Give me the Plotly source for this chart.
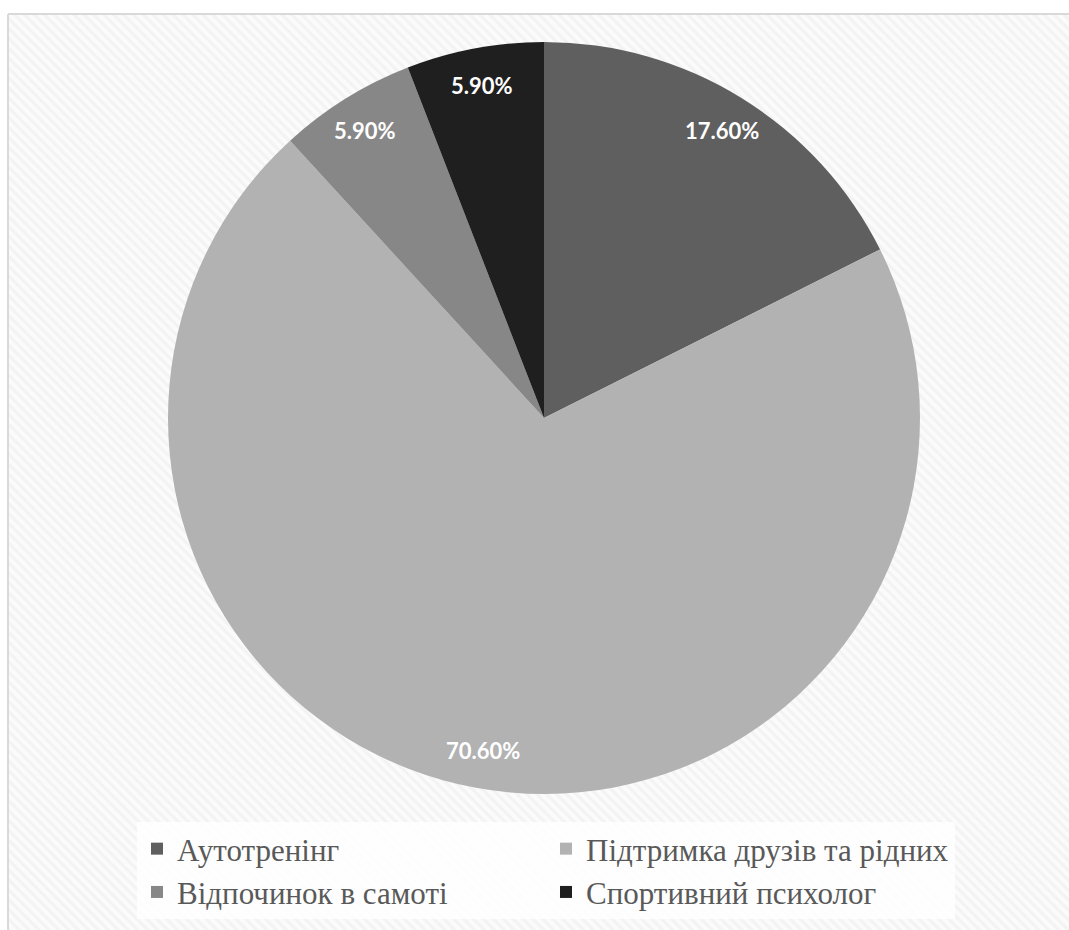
import math
import plotly.graph_objects as go

categories = ["Аутотренінг", "Підтримка друзів та рідних", "Відпочинок в самоті", "Спортивний психолог"]
values = [17.6, 70.6, 5.9, 5.9]
colors = ["#5f5f5f", "#b2b2b2", "#878787", "#1f1f1f"]
label_texts = ["17.60%", "70.60%", "5.90%", "5.90%"]

W, H = 1069, 930
cx, cy, R = 544, 418, 376

def px(x):
    return x / W

def py(y):
    return 1 - y / H

fig = go.Figure()

# hatched background panel
fig.add_trace(go.Scatter(
    x=[9, W + 20, W + 20, 9, 9], y=[15, 15, H + 20, H + 20, 15], mode="lines", fill="toself",
    line=dict(width=0), fillcolor="#fbfbfb",
    fillpattern=dict(shape="\\", bgcolor="#fbfbfb", fgcolor="#ececec", size=7, solidity=0.45),
    hoverinfo="skip", showlegend=False, xaxis="x", yaxis="y",
))

fig.add_trace(go.Pie(
    labels=categories, values=values, sort=False, direction="clockwise", rotation=0,
    marker=dict(colors=colors, line=dict(width=0)),
    textinfo="none", hoverinfo="label+percent",
    domain=dict(x=[px(cx - R), px(cx + R)], y=[py(cy + R), py(cy - R)]),
))

# labels computed from the data
annotations = []
total = sum(values)
cum = 0
for v, t in zip(values, label_texts):
    mid = (cum + v / 2) / total * 2 * math.pi
    cum += v
    lx = cx + 0.9 * R * math.sin(mid)
    ly = cy - 0.9 * R * math.cos(mid)
    annotations.append(dict(
        x=px(lx), y=py(ly), xref="paper", yref="paper", text=f"<b>{t}</b>",
        showarrow=False, font=dict(family="Lato, Open Sans, sans-serif", size=22, color="white"),
        xanchor="center", yanchor="middle",
    ))

shapes = [
    # frame border (left and top edges only visible)
    dict(type="line", xref="paper", yref="paper", x0=px(8), x1=px(8), y0=py(H + 10), y1=py(14),
         line=dict(color="#d9d9d9", width=2), layer="below"),
    dict(type="line", xref="paper", yref="paper", x0=px(8), x1=px(W + 10), y0=py(14), y1=py(14),
         line=dict(color="#d9d9d9", width=2), layer="below"),
]
# soft shadow around pie
for i, op in [(14, 0.03), (10, 0.04), (7, 0.05), (4, 0.07), (2, 0.09)]:
    shapes.append(dict(type="circle", xref="paper", yref="paper",
                       x0=px(cx - R - i), x1=px(cx + R + i), y0=py(cy + R + i + 2), y1=py(cy - R - i + 2),
                       line=dict(width=0), fillcolor=f"rgba(0,0,0,{op})", layer="below"))

fig.update_layout(
    width=W, height=H,
    margin=dict(l=0, r=0, t=0, b=0),
    paper_bgcolor="white", plot_bgcolor="rgba(0,0,0,0)",
    xaxis=dict(range=[0, W], visible=False, domain=[0, 1], fixedrange=True),
    yaxis=dict(range=[H, 0], visible=False, domain=[0, 1], fixedrange=True),
    shapes=shapes,
    annotations=annotations,
    showlegend=True,
    legend=dict(
        orientation="h", x=px(137), xanchor="left", y=py(822), yanchor="top",
        entrywidth=364, entrywidthmode="pixels",
        font=dict(family="Liberation Serif, Times New Roman, serif", size=31, color="#595959"),
        bgcolor="rgba(255,255,255,0.8)", itemsizing="constant",
    ),
)

fig.write_html("out.html")
